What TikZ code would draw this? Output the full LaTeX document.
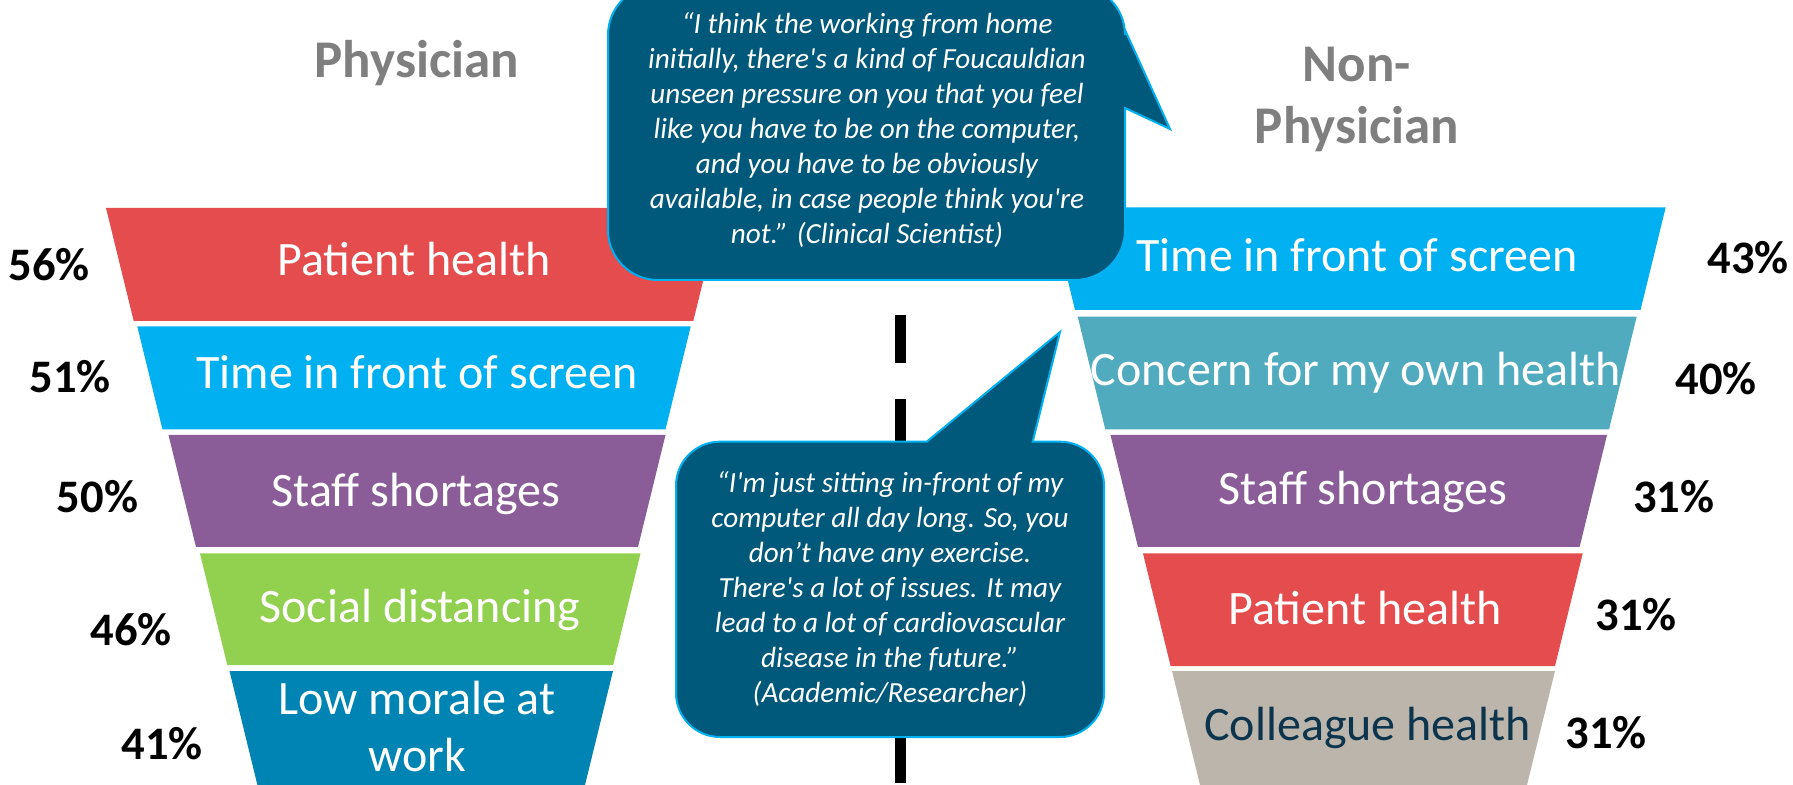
\documentclass[tikz,border=0pt]{standalone}
\usepackage{fontspec}
\setmainfont{Carlito}
\usetikzlibrary{positioning}

\definecolor{bandRed}{RGB}{229,76,77}
\definecolor{bandCyan}{RGB}{0,176,240}
\definecolor{bandTeal}{RGB}{81,171,190}
\definecolor{bandPurple}{RGB}{138,93,152}
\definecolor{bandGreen}{RGB}{146,208,80}
\definecolor{bandBlue}{RGB}{0,132,180}
\definecolor{bandBeige}{RGB}{188,181,171}
\definecolor{quoteFill}{RGB}{0,88,122}
\definecolor{quoteEdge}{RGB}{0,176,240}
\definecolor{headGray}{RGB}{127,127,127}
\definecolor{darkText}{RGB}{12,53,77}

\begin{document}
\begin{tikzpicture}[
    x=0.5pt, y=-0.5pt,
    band/.style={text=white, font=\fontsize{24}{28.5}\selectfont, align=center, inner sep=0pt, anchor=base},
    pct/.style={font=\fontsize{23.3}{28}\selectfont\bfseries, inner sep=0pt, anchor=base},
    heading/.style={text=headGray, font=\fontsize{26.5}{30.85}\selectfont\bfseries, align=center, inner sep=0pt},
    quote/.style={text=white, font=\fontsize{14.6}{17.5}\selectfont\itshape, align=center, inner sep=0pt},
    bubble/.style={fill=quoteFill, draw=quoteEdge, line width=1pt},
    divider/.style={line width=5.5pt, dash pattern=on 24pt off 18pt}
]
\useasboundingbox (0,0) rectangle (1793,785);
\clip (0,0) rectangle (1793,785);

% Left funnel: Physician
\fill[bandRed]    (106,208)   -- (721,208)   -- (693.3,321) -- (133.7,321) -- cycle;
\fill[bandCyan]   (137.3,326.5) -- (690.7,326.5) -- (665.5,429.5) -- (162.5,429.5) -- cycle;
\fill[bandPurple] (168.5,435) -- (665.5,435) -- (638,547)   -- (196,547)   -- cycle;
\fill[bandGreen]  (200,553.5) -- (640.5,553.5) -- (613.2,665) -- (227.3,665) -- cycle;
\fill[bandBlue]   (229.5,671) -- (613,671)   -- (585,785)   -- (257.4,785) -- cycle;

% Right funnel: Non-Physician
\fill[bandCyan]   (1050,207.3) -- (1665.7,207.3) -- (1640.5,310) -- (1075,310) -- cycle;
\fill[bandTeal]   (1077.7,316.7) -- (1636.7,316.7) -- (1609,429.5) -- (1105.3,429.5) -- cycle;
\fill[bandPurple] (1110.5,435) -- (1607,435) -- (1579.6,547) -- (1138,547) -- cycle;
\fill[bandRed]    (1143,553.5) -- (1582.7,553.5) -- (1555,666) -- (1170.6,666) -- cycle;
\fill[bandBeige]  (1172,671) -- (1555,671) -- (1527,785) -- (1200,785) -- cycle;

% Divider
\coordinate (divTop) at (900,231);
\coordinate (divBot) at (900,785);
\draw[divider] (divTop) -- (divBot);

% Quote bubbles
\draw[bubble] (1170,129) -- (1125,108) [rounded corners=25pt] -- (1125,280) -- (608,280)
    -- (608,-15) -- (1125,-15) [sharp corners] -- (1125,30) -- cycle;
\draw[bubble] (1060,332) -- (1032.7,441.7) [rounded corners=22pt] -- (1104,441.7) -- (1104,737)
    -- (676,737) -- (676,441.7) [sharp corners] -- (926.7,441.7) -- cycle;

\node[quote] (quoteTop) at (867,130) {“I think the working from home\\initially, there\textquotesingle s a kind of Foucauldian\\unseen pressure on you that you feel\\like you have to be on the computer,\\and you have to be obviously\\available, in case people think you\textquotesingle re\\not.” (Clinical Scientist)};
\node[quote] (quoteMid) at (890,589) {“I\textquotesingle m just sitting in-front of my\\computer all day long. So, you\\don’t have any exercise.\\There\textquotesingle s a lot of issues. It may\\lead to a lot of cardiovascular\\disease in the future.”\\(Academic/Researcher)};

% Headings
\node[heading, anchor=base] (phys) at (416.7,78) {Physician};
\node[heading] (nonPhys) at (1357,99.5) {Non-\\Physician};

% Band labels
\node[band] (lPatient) at (414,275.4) {Patient health};
\node[band] (lScreen) at (417,389) {Time in front of screen};
\node[band] (lStaff) at (416,507) {Staff shortages};
\node[band] (lSocial) at (420,622.6) {Social distancing};
\node[band, anchor=center] (lMorale) at (417,726) {Low morale at\\work};

\node[band] (rScreen) at (1357,271.6) {Time in front of screen};
\node[band] (rConcern) at (1355.7,385.4) {Concern for my own health};
\node[band] (rStaff) at (1363,505) {Staff shortages};
\node[band] (rPatient) at (1365,624.5) {Patient health};
\node[band, text=darkText] (rColleague) at (1367.7,740) {Colleague health};

% Percentages
\node[pct] (lPct1) at (49,281) {56\%};
\node[pct] (lPct2) at (70,393) {51\%};
\node[pct] (lPct3) at (97.6,512.6) {50\%};
\node[pct] (lPct4) at (131,645) {46\%};
\node[pct] (lPct5) at (162,759) {41\%};

\node[pct] (rPct1) at (1748,273.5) {43\%};
\node[pct] (rPct2) at (1716,395) {40\%};
\node[pct] (rPct3) at (1673.6,512.6) {31\%};
\node[pct] (rPct4) at (1636,630) {31\%};
\node[pct] (rPct5) at (1606.3,748) {31\%};

\end{tikzpicture}
\end{document}
